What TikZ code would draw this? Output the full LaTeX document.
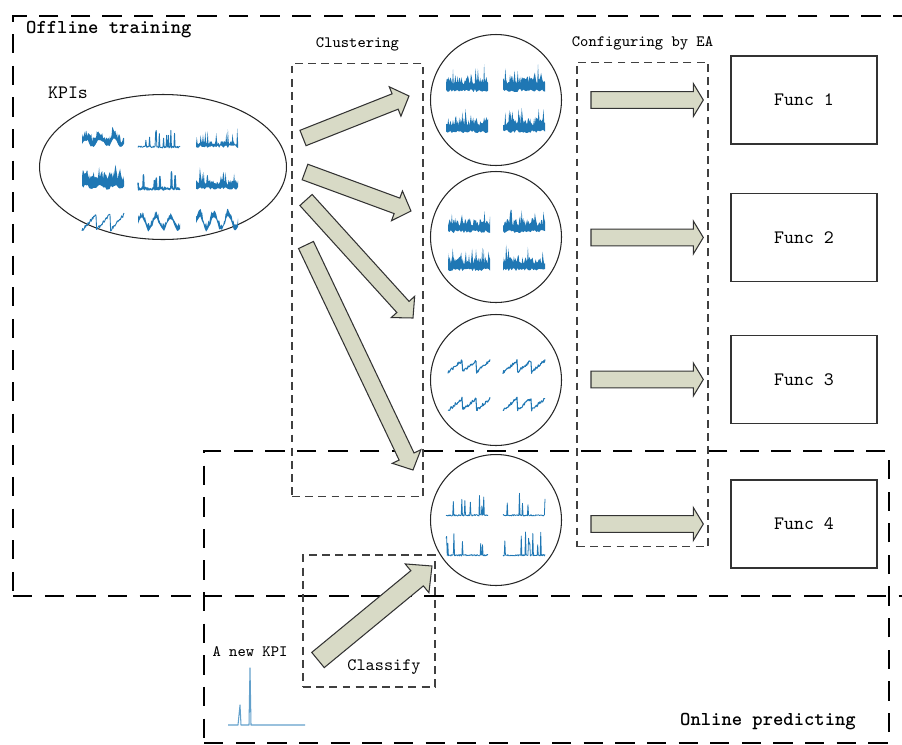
\documentclass[tikz,border=0pt]{standalone}
\usepackage{fontspec}
\usetikzlibrary{shapes.geometric,positioning,calc}

\definecolor{kpiblue}{RGB}{31,119,180}
\definecolor{arrowfill}{RGB}{216,218,198}

\tikzset{
  bigbox/.style={draw, line width=1.3pt, dash pattern=on 11pt off 7pt},
  stagebox/.style={draw=black!75, line width=0.6pt, dash pattern=on 4.5pt off 3pt},
  funcbox/.style={draw=black!80, line width=0.8pt, minimum width=2.92cm, minimum height=1.76cm,
    font=\ttfamily\fontsize{10.8}{12}\selectfont},
  cluster/.style={circle, draw=black!85, line width=0.6pt, minimum size=2.62cm},
  fatarr/.style={draw=black!80, fill=arrowfill, line width=0.6pt, line join=miter},
  kpiline/.style={draw=kpiblue, line width=0.45pt, line join=round},
  title/.style={font=\ttfamily\bfseries\fontsize{11.2}{13}\selectfont},
  small/.style={font=\ttfamily\fontsize{9}{10}\selectfont, inner sep=1pt}
}

% fat arrow: from, to, shaft half width, head half width, head length
\newcommand{\fatarrow}[5]{%
  \draw[fatarr] let \p1=($(#2)-(#1)$), \n1={atan2(\y1,\x1)} in
    ($(#1)+(\n1+90:#3)$) -- ($(#2)+(\n1+180:#5)+(\n1+90:#3)$)
    -- ($(#2)+(\n1+180:#5)+(\n1+90:#4)$) -- (#2)
    -- ($(#2)+(\n1+180:#5)+(\n1-90:#4)$) -- ($(#2)+(\n1+180:#5)+(\n1-90:#3)$)
    -- ($(#1)+(\n1-90:#3)$) -- cycle;}

% dense KPI curve: left x, baseline y, height, spikes, wave
\newcommand{\densekpi}[5]{%
  \fill[kpiblue] plot[domain=0:42, samples=55]
      ({#1+\x},{#2-#3*(0.45+0.55*rnd)-#4*(rnd>0.86)*(0.4+0.6*rnd)-#5*(0.5+0.5*sin(\x*25))})
    -- plot[domain=42:0, samples=30] ({#1+\x},{#2-3*rnd-#5*(0.5+0.5*sin(\x*25))}) -- cycle;}

% thin KPI curve: [opts], left x, baseline y, noise, spikes, sawtooth
\newcommand{\thinkpi}[6][]{%
  \draw[kpiline,#1] plot[domain=0:42, samples=70]
    ({#2+\x},{#3-#4*rnd-#5*(rnd>0.9)*(0.4+0.6*rnd)-#6*mod(\x,14)/14});}

\begin{document}
\begin{tikzpicture}[x=0.02cm, y=-0.02cm]
  \useasboundingbox (0,0) rectangle (902,744);
  \pgfmathsetseed{17}

  % stages
  \node[bigbox, minimum width=18.06cm, minimum height=11.6cm, anchor=north west] (offline) at (12,15) {};
  \node[bigbox, minimum width=13.7cm, minimum height=5.84cm, anchor=north west] (online) at (203,450) {};
  \node[title, anchor=west] (offlbl) at (20,30) {Offline training};
  \node[title, anchor=east] (onlbl) at (862,722) {Online predicting};

  % KPIs
  \node[ellipse, draw=black!85, line width=0.6pt, minimum width=4.94cm, minimum height=2.9cm] (kpis) at (163,167) {};
  \node[font=\ttfamily\fontsize{10.8}{12}\selectfont] (kpilbl) at (68,93) {KPIs};
  \densekpi{82}{148}{11}{5}{7}
  \thinkpi[line width=0.5pt]{138}{148}{2}{16}{0}
  \densekpi{196}{148}{7}{16}{0}
  \densekpi{82}{190}{18}{7}{3}
  \thinkpi[line width=0.8pt]{138}{190}{3}{16}{0}
  \densekpi{196}{190}{11}{14}{0}
  \thinkpi[line width=0.5pt]{82}{232}{3}{0}{16}
  \densekpi{138}{232}{9}{0}{12}
  \densekpi{196}{232}{10}{0}{14}

  % boxes
  \node[stagebox, minimum width=2.62cm, minimum height=8.68cm] (clus) at (357.5,280) {};
  \node[small, above=0.18cm of clus] (cluslbl) {Clustering};
  \node[stagebox, minimum width=2.62cm, minimum height=9.7cm] (conf) at (642.5,304.5) {};
  \node[small, above=0.18cm of conf] (conflbl) {Configuring by EA};
  \node[stagebox, minimum width=2.64cm, minimum height=2.64cm] (classify) at (369,621) {};
  \node[font=\ttfamily\fontsize{9.9}{11}\selectfont] (clslbl) at (384,667) {Classify};

  % clusters
  \node[cluster] (c1) at (496,100) {};
  \node[cluster] (c2) at (496,237) {};
  \node[cluster] (c3) at (496,380) {};
  \node[cluster] (c4) at (496,520) {};
  \foreach \px/\py in {446/92, 503/92, 446/133, 503/133} {\densekpi{\px}{\py}{16}{14}{0}}
  \foreach \px/\py in {448/233, 503/233, 448/271, 503/271} {\densekpi{\px}{\py}{15}{12}{0}}
  \foreach \px/\py in {448/374, 503/374, 448/412, 503/412} {\thinkpi[line width=0.6pt]{\px}{\py}{3}{0}{12}}
  \foreach \px/\py in {446/516, 503/516, 446/556, 503/556} {\thinkpi[line width=0.45pt]{\px}{\py}{1.5}{24}{0}}

  % functions
  \node[funcbox] (f1) at (804,100) {Func 1};
  \node[funcbox] (f2) at (804,237.5) {Func 2};
  \node[funcbox] (f3) at (804,379.5) {Func 3};
  \node[funcbox] (f4) at (804,524) {Func 4};

  % new KPI
  \node[small] (newlbl) at (250,652) {A new KPI};
  \coordinate (nk) at (228,725);
  \draw[kpiline, line width=0.6pt, draw=kpiblue!70] (nk) -- ++(10,0) -- ++(2,-20) -- ++(1,20) -- ++(8,0)
    -- ++(1,-57) -- ++(1,57) -- (305,725);

  % arrows
  \coordinate (s1) at (303,138); \coordinate (t1) at ($(c1.west)+(-21,-4)$);
  \coordinate (s2) at (305,172); \coordinate (t2) at ($(c2.west)+(-19,-26)$);
  \coordinate (s3) at (306,200); \coordinate (t3) at ($(c3.west)+(-17,-62)$);
  \coordinate (s4) at (306,245); \coordinate (t4) at ($(c4.west)+(-17,-50)$);
  \foreach \i in {1,...,4}
    \fatarrow{s\i}{t\i}{4.7pt}{9pt}{8.5pt};
  \foreach \i in {1,...,4} {
    \coordinate (hs\i) at ($(c\i.east |- f\i.west)+(29,0)$);
    \coordinate (he\i) at ($(f\i.west)+(-27,0)$);
    \fatarrow{hs\i}{he\i}{4.8pt}{9.4pt}{5.7pt};
  }
  \coordinate (cs) at (318,660);
  \coordinate (ct) at ($(c4.west)+(2,46)$);
  \fatarrow{cs}{ct}{5.6pt}{10.6pt}{11pt};
\end{tikzpicture}
\end{document}
